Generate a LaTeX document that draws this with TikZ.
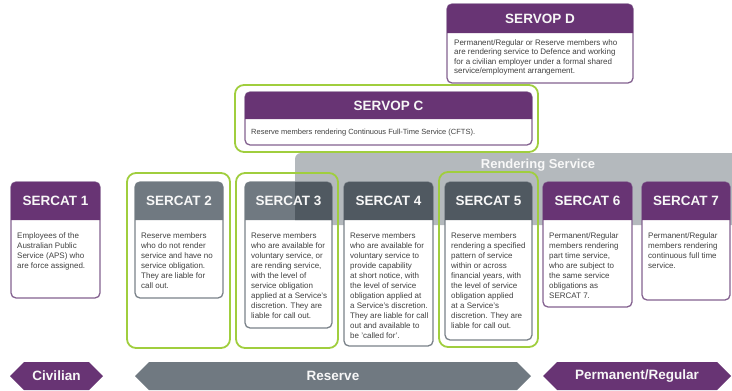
\documentclass[tikz,border=0pt]{standalone}
\usepackage{fontspec}
\setmainfont{Liberation Sans}
\usepackage{tikz}
\usetikzlibrary{shapes.symbols}
\definecolor{plum}{RGB}{104,52,116}
\definecolor{plumline}{RGB}{132,98,144}
\definecolor{steel}{RGB}{112,121,129}
\definecolor{steelline}{RGB}{122,130,137}
\definecolor{slate}{RGB}{80,89,97}
\definecolor{bandgray}{RGB}{180,185,189}
\definecolor{lime}{RGB}{160,206,62}
\definecolor{inkgray}{RGB}{65,65,65}

\begin{document}
\begin{tikzpicture}[x=1pt,y=-1pt,
	boxline/.style={line width=1.3pt, rounded corners=5pt, fill=white},
	greenline/.style={draw=lime, line width=1.8pt, rounded corners=9pt},
	headtext/.style={text=white!94!gray, font=\bfseries\fontsize{13.5}{14}\selectfont, inner sep=0pt},
	bodytext/.style={text=inkgray, font=\fontsize{8}{10}\selectfont, align=left, inner sep=0pt, anchor=north west},
	tag/.style={signal, signal to=west and east, minimum height=28pt, inner sep=0pt, text=white!94!gray, font=\bfseries\fontsize{13.5}{14}\selectfont}]
	\useasboundingbox (0,0) rectangle (732,391);
	
	% rendering service band
	\fill[bandgray, rounded corners=6pt] (295,153) rectangle (745,225);
	\node[text=white!90!bandgray, font=\bfseries\fontsize{13}{14}\selectfont] (rs) at (538,165) {Rendering Service};
	
	% green outlines
	\draw[greenline] (235,85) rectangle (538,152);
	\draw[greenline] (127,173) rectangle (230,348);
	\draw[greenline] (236,173) rectangle (338,348);
	\draw[greenline] (439,172) rectangle (538,347);
	
	% SERVOP D
	\draw[boxline, draw=plumline] (447,4) rectangle (633,83);
	\fill[plum] [rounded corners=5pt] (447,4) rectangle (633,33) [sharp corners] (447,25) rectangle (633,33);
	\node[headtext] (vd) at (540,18.5) {SERVOP D};
	\node[bodytext, font=\fontsize{8}{9.4}\selectfont] (vdt) at (454,39.5) {Permanent/Regular or Reserve members who\\are rendering service to Defence and working\\for a civilian employer under a formal shared\\service/employment arrangement.};
	
	% SERVOP C
	\draw[boxline, draw=plumline] (245,92) rectangle (532,145);
	\fill[plum] [rounded corners=5pt] (245,92) rectangle (532,119) [sharp corners] (245,111) rectangle (532,119);
	\node[headtext] (vc) at (388.5,105.5) {SERVOP C};
	\node[bodytext, font=\fontsize{7.5}{10}\selectfont] (vct) at (251,128.5) {Reserve members rendering Continuous Full-Time Service (CFTS).};
	
	% SERCAT 1
	\draw[boxline, draw=plumline] (11,182) rectangle (100,298);
	\fill[plum] [rounded corners=5pt] (11,182) rectangle (100,220) [sharp corners] (11,212) rectangle (100,220);
	\node[headtext] (c1) at (55.5,201) {SERCAT 1};
	\node[bodytext] (c1t) at (17,232.5) {Employees of the\\Australian Public\\Service (APS) who\\are force assigned.};
	
	% SERCAT 2
	\draw[boxline, draw=steelline] (135,182) rectangle (223,298);
	\fill[steel] [rounded corners=5pt] (135,182) rectangle (223,220) [sharp corners] (135,212) rectangle (223,220);
	\node[headtext] (c2) at (179,201) {SERCAT 2};
	\node[bodytext] (c2t) at (141,232.5) {Reserve members\\who do not render\\service and have no\\service obligation.\\They are liable for\\call out.};
	
	% SERCAT 3
	\draw[boxline, draw=steelline] (245,182) rectangle (332,328);
	\fill[steel] [rounded corners=5pt] (245,182) rectangle (332,220) [sharp corners] (245,212) rectangle (332,220);
	\begin{scope}
		\clip (295,150) rectangle (340,225);
		\fill[slate] [rounded corners=5pt] (245,182) rectangle (332,220) [sharp corners] (245,212) rectangle (332,220);
	\end{scope}
	\node[headtext] (c3) at (288.5,201) {SERCAT 3};
	\node[bodytext] (c3t) at (251,232.5) {Reserve members\\who are available for\\voluntary service, or\\are rending service,\\with the level of\\service obligation\\applied at a Service's\\discretion. They are\\liable for call out.};
	
	% SERCAT 4
	\draw[boxline, draw=steelline] (344,182) rectangle (433,346);
	\fill[slate] [rounded corners=5pt] (344,182) rectangle (433,220) [sharp corners] (344,212) rectangle (433,220);
	\node[headtext] (c4) at (388.5,201) {SERCAT 4};
	\node[bodytext] (c4t) at (350,232.5) {Reserve members\\who are available for\\voluntary service to\\provide capability\\at short notice, with\\the level of service\\obligation applied at\\a Service's discretion.\\They are liable for call\\out and available to\\be 'called for'.};
	
	% SERCAT 5
	\draw[boxline, draw=steelline] (445,182) rectangle (532,340);
	\fill[slate] [rounded corners=5pt] (445,182) rectangle (532,220) [sharp corners] (445,212) rectangle (532,220);
	\node[headtext] (c5) at (488.5,201) {SERCAT 5};
	\node[bodytext] (c5t) at (451,232.5) {Reserve members\\rendering a specified\\pattern of service\\within or across\\financial years, with\\the level of service\\obligation applied\\at a Service's\\discretion. They are\\liable for call out.};
	
	% SERCAT 6
	\draw[boxline, draw=plumline] (543,182) rectangle (632,307);
	\fill[plum] [rounded corners=5pt] (543,182) rectangle (632,220) [sharp corners] (543,212) rectangle (632,220);
	\node[headtext] (c6) at (587.5,201) {SERCAT 6};
	\node[bodytext] (c6t) at (549,232.5) {Permanent/Regular\\members rendering\\part time service,\\who are subject to\\the same service\\obligations as\\SERCAT 7.};
	
	% SERCAT 7
	\draw[boxline, draw=plumline] (642,182) rectangle (730,300);
	\fill[plum] [rounded corners=5pt] (642,182) rectangle (730,220) [sharp corners] (642,212) rectangle (730,220);
	\node[headtext] (c7) at (686,201) {SERCAT 7};
	\node[bodytext] (c7t) at (648,232.5) {Permanent/Regular\\members rendering\\continuous full time\\service.};
	
	% bottom tags
	\node[tag, fill=plum, minimum width=93pt] (civ) at (56.5,376) {Civilian};
	\node[tag, fill=steel, minimum width=396pt] (res) at (333,376) {Reserve};
	\node[tag, fill=plum, minimum width=188pt] (perm) at (637,376) {Permanent/Regular};
\end{tikzpicture}
\end{document}
